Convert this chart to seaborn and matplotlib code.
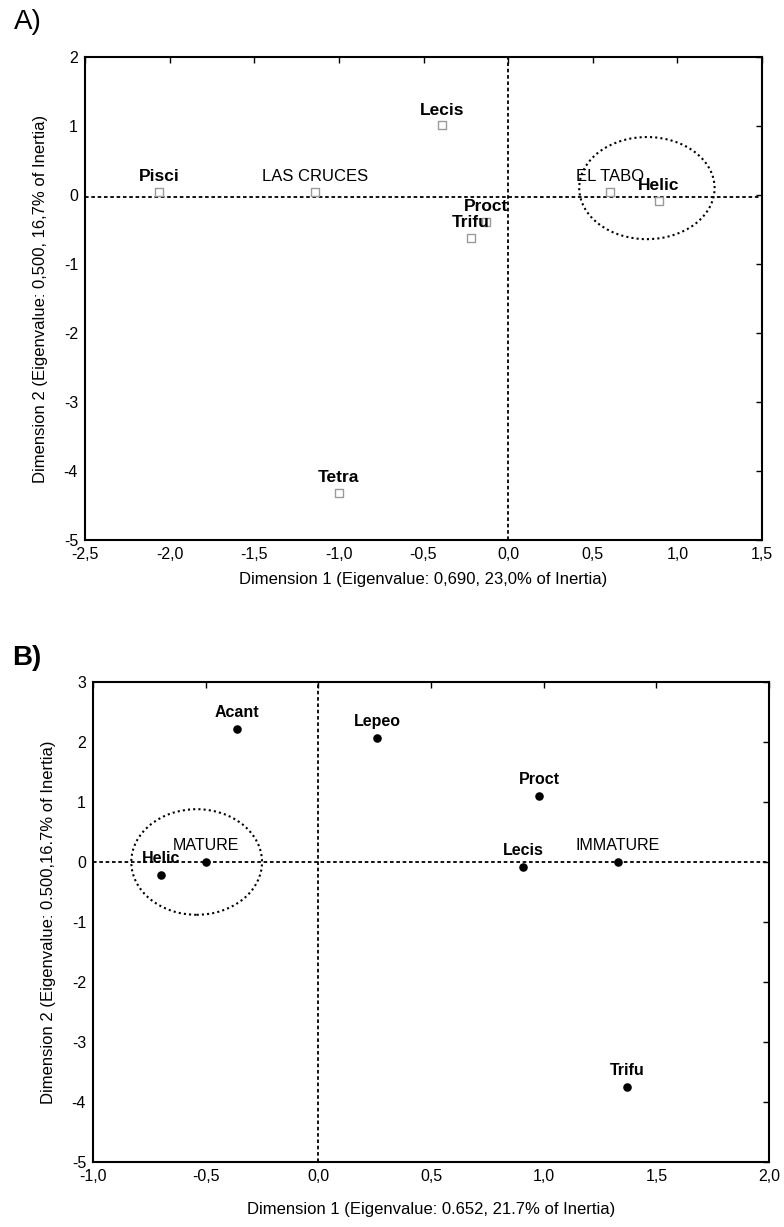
import matplotlib
matplotlib.use("Agg")
import matplotlib.pyplot as plt
import seaborn as sns
import pandas as pd
from matplotlib.patches import Ellipse
from matplotlib.ticker import FuncFormatter, MultipleLocator

sns.set_style("white")
plt.rcParams['font.family'] = ['Liberation Sans', 'DejaVu Sans']
plt.rcParams['axes.unicode_minus'] = False
plt.rcParams['text.color'] = 'black'
plt.rcParams['axes.labelcolor'] = 'black'
plt.rcParams['xtick.color'] = 'black'
plt.rcParams['ytick.color'] = 'black'

# ---------------- Data ----------------
a_labels = ["Pisci", "LAS CRUCES", "Lecis", "Proct", "Trifu", "EL TABO", "Helic", "Tetra"]
a_x = [-2.06, -1.14, -0.39, -0.13, -0.22, 0.60, 0.89, -1.00]
a_y = [0.04, 0.04, 1.01, -0.39, -0.62, 0.04, -0.09, -4.32]
a_bold = [True, False, True, True, True, False, True, True]

b_labels = ["Acant", "Lepeo", "Proct", "MATURE", "Helic", "Lecis", "IMMATURE", "Trifu"]
b_x = [-0.36, 0.26, 0.98, -0.50, -0.70, 0.91, 1.33, 1.37]
b_y = [2.22, 2.06, 1.10, 0.00, -0.22, -0.08, 0.00, -3.75]
b_bold = [True, True, True, False, True, True, False, True]

a_xlabel = "Dimension 1 (Eigenvalue: 0,690, 23,0% of Inertia)"
a_ylabel = "Dimension 2 (Eigenvalue: 0,500, 16,7% of Inertia)"
b_xlabel = "Dimension 1 (Eigenvalue: 0.652, 21.7% of Inertia)"
b_ylabel = "Dimension 2 (Eigenvalue: 0.500,16.7% of Inertia)"

dfA = pd.DataFrame({"x": a_x, "y": a_y, "label": a_labels})
dfB = pd.DataFrame({"x": b_x, "y": b_y, "label": b_labels})

W, H = 784, 1227
fig = plt.figure(figsize=(W / 100, H / 100), dpi=100)

def comma(v, pos):
    s = f"{v:.1f}".replace(".", ",")
    return "0,0" if s == "-0,0" else s

def style_axes(ax):
    for s in ax.spines.values():
        s.set_color("black")
        s.set_linewidth(1.5)
        s.set_visible(True)
    ax.tick_params(direction="in", length=4, width=1, top=True, right=True,
                   labeltop=False, labelright=False, labelsize=11.5, pad=5,
                   colors="black")
    ax.xaxis.set_major_formatter(FuncFormatter(comma))
    ax.grid(False)

# ---------------- Panel A ----------------
axA = fig.add_axes([85 / W, 1 - 540 / H, 677 / W, 483 / H])
axA.axvline(0, color="black", ls=(0, (2, 1.5)), lw=1.3, zorder=1)
axA.axhline(-0.03, color="black", ls=(0, (2, 1.5)), lw=1.3, zorder=1)
sns.scatterplot(data=dfA, x="x", y="y", ax=axA, marker="s", s=40,
                facecolor="white", edgecolor="#9a9a9a", linewidth=1, zorder=3)
for lab, x, y, b in zip(a_labels, a_x, a_y, a_bold):
    axA.annotate(lab, (x, y), xytext=(0, 11), textcoords="offset points",
                 ha="center", va="center", fontsize=12.5 if b else 12,
                 fontweight="bold" if b else "normal", color="black", zorder=4)
axA.add_patch(Ellipse((0.82, 0.1), 0.80, 1.48, fill=False, ec="black",
                      ls=(0, (1, 1.5)), lw=1.5, zorder=2))
axA.set_xlim(-2.5, 1.5)
axA.set_ylim(-5, 2)
axA.xaxis.set_major_locator(MultipleLocator(0.5))
axA.yaxis.set_major_locator(MultipleLocator(1))
style_axes(axA)
axA.set_xlabel(a_xlabel, fontsize=12)
axA.set_ylabel(a_ylabel, fontsize=12)
axA.xaxis.set_label_coords(0.5, -0.066)
axA.yaxis.set_label_coords(-0.055, 0.5)

# ---------------- Panel B ----------------
axB = fig.add_axes([93 / W, 1 - 1162 / H, 676 / W, 480 / H])
axB.axvline(0, color="black", ls=(0, (2, 1.5)), lw=1.3, zorder=1)
axB.axhline(0, color="black", ls=(0, (2, 1.5)), lw=1.3, zorder=1)
sns.scatterplot(data=dfB, x="x", y="y", ax=axB, marker="o", s=38,
                color="black", edgecolor="black", linewidth=0, zorder=3)
for lab, x, y, b in zip(b_labels, b_x, b_y, b_bold):
    axB.annotate(lab, (x, y), xytext=(0, 12), textcoords="offset points",
                 ha="center", va="center", fontsize=11.5 if b else 11.5,
                 fontweight="bold" if b else "normal", color="black", zorder=4)
axB.add_patch(Ellipse((-0.54, 0.0), 0.58, 1.76, fill=False, ec="black",
                      ls=(0, (1, 1.5)), lw=1.5, zorder=2))
axB.set_xlim(-1, 2)
axB.set_ylim(-5, 3)
axB.xaxis.set_major_locator(MultipleLocator(0.5))
axB.yaxis.set_major_locator(MultipleLocator(1))
style_axes(axB)
axB.set_xlabel(b_xlabel, fontsize=12)
axB.set_ylabel(b_ylabel, fontsize=12)
axB.xaxis.set_label_coords(0.5, -0.083)
axB.yaxis.set_label_coords(-0.055, 0.5)

# Panel letters
fig.text(14 / W, 1 - 22 / H, "A)", fontsize=20, va="center", ha="left")
fig.text(12 / W, 1 - 658 / H, "B)", fontsize=20, fontweight="bold", va="center", ha="left")

fig.savefig("out.png", dpi=100, facecolor="white")
